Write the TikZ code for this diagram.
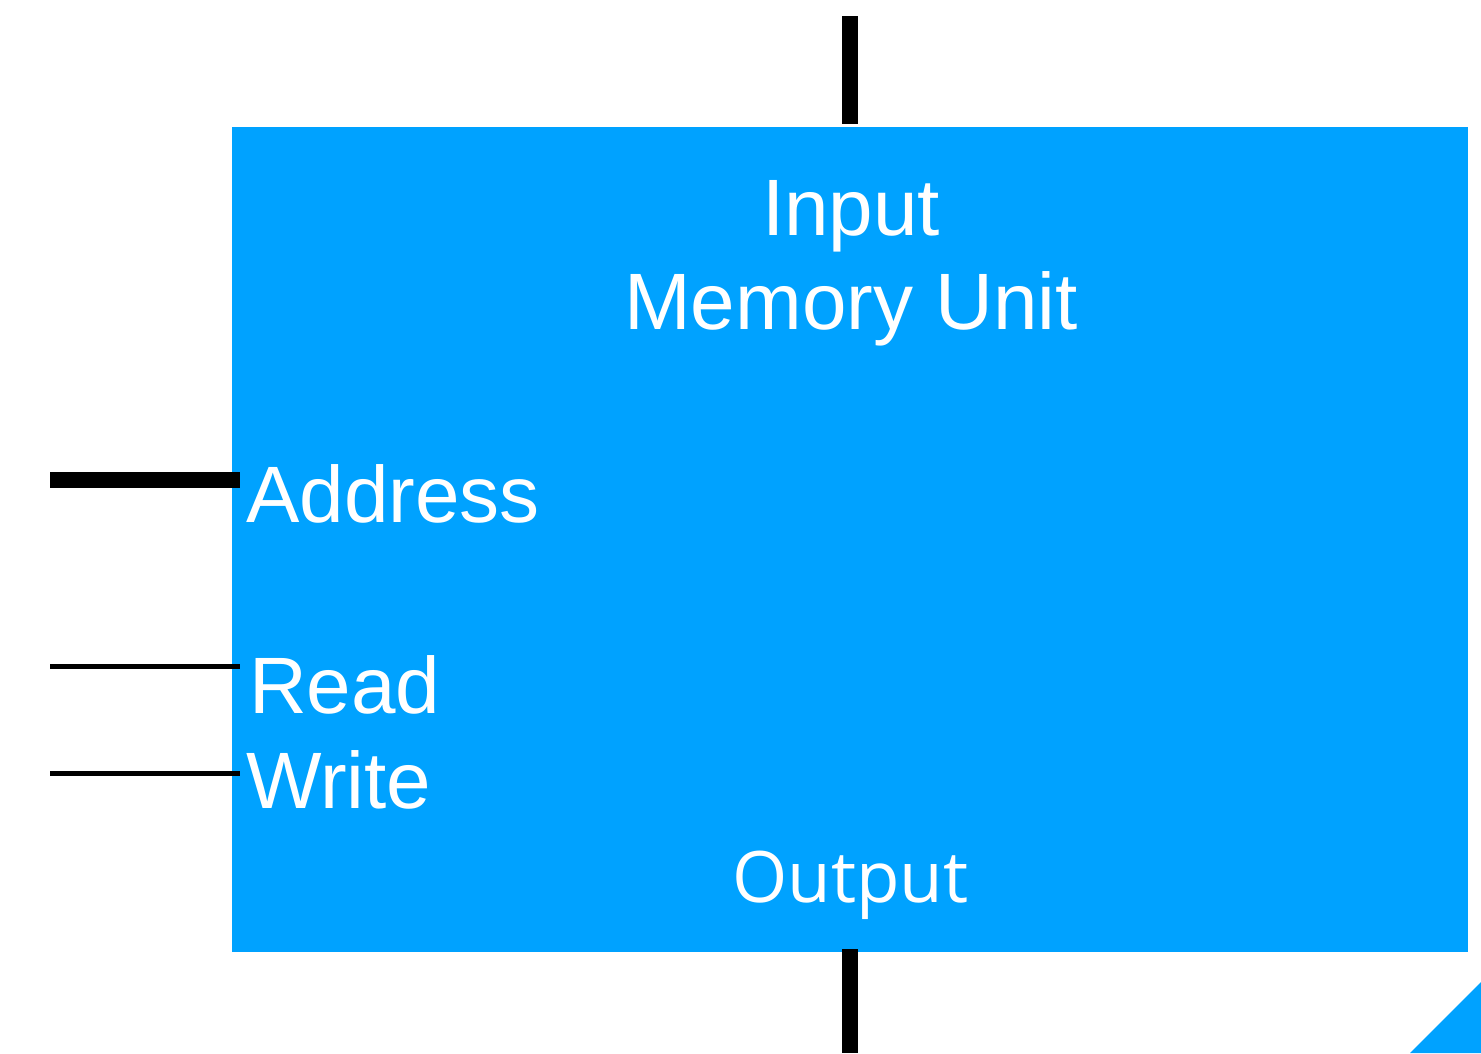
\documentclass[tikz,border=0pt]{standalone}
\usepackage{fontspec}
\setmainfont{Liberation Sans}
\newfontfamily\outfont{Open Sans}
\usepackage{tikz}
\usetikzlibrary{positioning}
\definecolor{memblue}{RGB}{0,162,255}

\begin{document}
\begin{tikzpicture}[x=1pt, y=-1pt, font=\fontsize{80}{96}\selectfont,
        label/.style={text=white, inner sep=0pt},
        bus/.style={line width=16pt},
        wire/.style={line width=5pt}]
    \useasboundingbox (0,0) rectangle (1481,1053);
    \node[fill=memblue, minimum width=1236pt, minimum height=825pt, inner sep=0pt] (mem) at (850,539.5) {};
    \node[label, anchor=base] (input) at (851,235) {Input};
    \node[label, anchor=base] (title) at (851,329) {Memory Unit};
    \node[label, anchor=base west] (addr) at (246,522) {Address};
    \node[label, anchor=base west] (rd) at (249,713) {Read};
    \node[label, anchor=base west] (wr) at (246,808) {Write};
    \node[label, anchor=base, font=\outfont\fontsize{71}{85}\selectfont] (output) at (850.5,902) {Output};
    % ports
    \coordinate (inTop) at (850,16);
    \coordinate (outBot) at (850,1053);
    \coordinate (addrIn) at (50,479.5);
    \coordinate (rdIn) at (50,666);
    \coordinate (wrIn) at (50,773);
    \draw[bus] (inTop) -- ([yshift=3pt]mem.north -| inTop);
    \draw[bus] ([yshift=3pt]mem.south -| outBot) -- (outBot);
    \draw[bus] (addrIn) -- ([xshift=8pt]mem.west |- addrIn);
    \draw[wire] (rdIn) -- ([xshift=8pt]mem.west |- rdIn);
    \draw[wire] (wrIn) -- ([xshift=8pt]mem.west |- wrIn);
    % corner
    \fill[memblue] (1410,1053) -- (1481,982) -- (1481,1053) -- cycle;
\end{tikzpicture}
\end{document}
